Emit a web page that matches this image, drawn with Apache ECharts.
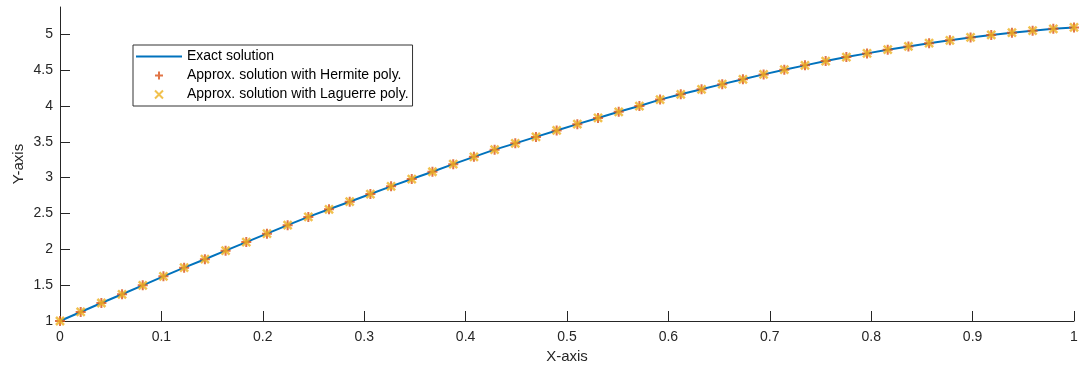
<!DOCTYPE html>
<html>
<head>
<meta charset="utf-8">
<script src="https://cdn.jsdelivr.net/npm/echarts@6/dist/echarts.min.js"></script>
<style>
html,body{margin:0;padding:0;background:#fff;}
#chart{width:1083px;height:372px;}
</style>
</head>
<body>
<div id="chart"></div>
<script>
// x grid: 50 points from 0 to 1
const xValues = [0.0000,0.0204,0.0408,0.0612,0.0816,0.1020,0.1224,0.1429,0.1633,0.1837,
  0.2041,0.2245,0.2449,0.2653,0.2857,0.3061,0.3265,0.3469,0.3673,0.3878,
  0.4082,0.4286,0.4490,0.4694,0.4898,0.5102,0.5306,0.5510,0.5714,0.5918,
  0.6122,0.6327,0.6531,0.6735,0.6939,0.7143,0.7347,0.7551,0.7755,0.7959,
  0.8163,0.8367,0.8571,0.8776,0.8980,0.9184,0.9388,0.9592,0.9796,1.0000];
const exactY = [1.000,1.126,1.251,1.373,1.498,1.623,1.744,1.862,1.981,2.101,
  2.218,2.337,2.452,2.558,2.664,2.771,2.878,2.980,3.082,3.188,
  3.290,3.390,3.478,3.568,3.658,3.746,3.832,3.918,3.998,4.088,
  4.162,4.232,4.304,4.371,4.440,4.505,4.566,4.626,4.682,4.733,
  4.785,4.830,4.875,4.915,4.955,4.990,5.022,5.050,5.075,5.095];
const hermiteY = exactY.slice();
const laguerreY = exactY.slice();
const xTicks = [0,0.1,0.2,0.3,0.4,0.5,0.6,0.7,0.8,0.9,1];
const yTicks = [1,1.5,2,2.5,3,3.5,4,4.5,5];
const seriesNames = ['Exact solution','Approx. solution with Hermite poly.','Approx. solution with Laguerre poly.'];

const pair = ys => xValues.map((x,i)=>[x, ys[i]]);
const FONT = '"Liberation Sans", Arial, sans-serif';
const AX = '#262626';
const PLUS = 'path://M5,0 L5,10 M0,5 L10,5';
const CROSS = 'path://M0,0 L10,10 M10,0 L0,10';

const chart = echarts.init(document.getElementById('chart'), null, {renderer:'canvas'});
chart.setOption({
  animation: false,
  backgroundColor: '#fff',
  grid: {left: 60, right: 9, top: 7, bottom: 51, containLabel: false},
  xAxis: {
    type: 'value', min: 0, max: 1, interval: 0.1,
    name: 'X-axis', nameLocation: 'middle', nameGap: 28,
    nameTextStyle: {fontFamily: FONT, fontSize: 15, color: AX},
    axisLine: {show: true, onZero: false, lineStyle: {color: AX, width: 1}},
    axisTick: {show: true, inside: true, length: 10, customValues: xTicks, lineStyle: {color: AX}},
    axisLabel: {show: true, margin: 9, fontFamily: FONT, fontSize: 14, color: AX, customValues: xTicks},
    splitLine: {show: false}
  },
  yAxis: {
    type: 'value', min: 1, max: 5.38,
    name: 'Y-axis', nameLocation: 'middle', nameGap: 34, nameRotate: 90, nameMoveOverlap: false,
    nameTextStyle: {fontFamily: FONT, fontSize: 15, color: AX},
    axisLine: {show: true, onZero: false, lineStyle: {color: AX, width: 1}},
    axisTick: {show: true, inside: true, length: 10, customValues: yTicks, lineStyle: {color: AX}},
    axisLabel: {show: true, margin: 7, fontFamily: FONT, fontSize: 14, color: AX, customValues: yTicks},
    splitLine: {show: false}
  },
  legend: {
    show: true, orient: 'vertical', left: 133, top: 45,
    padding: [4, 4, 4, 3], itemGap: 4, itemWidth: 46, itemHeight: 8,
    backgroundColor: '#fff', borderColor: '#333', borderWidth: 1, borderRadius: 0,
    textStyle: {fontFamily: FONT, fontSize: 14, color: '#000', lineHeight: 15},
    data: [
      {name: seriesNames[0], icon: 'path://M0,0 L46,0 L46,2 L0,2 Z'},
      {name: seriesNames[1], icon: PLUS},
      {name: seriesNames[2], icon: CROSS}
    ]
  },
  series: [
    {
      name: seriesNames[0], type: 'line', data: pair(exactY),
      symbol: 'none', smooth: false,
      lineStyle: {color: '#0072BD', width: 2}, itemStyle: {color: '#0072BD'}, z: 2
    },
    {
      name: seriesNames[1], type: 'scatter', data: pair(hermiteY),
      symbol: PLUS, symbolSize: 10,
      itemStyle: {color: '#D95319', borderColor: '#D95319', borderWidth: 2}, z: 3
    },
    {
      name: seriesNames[2], type: 'scatter', data: pair(laguerreY),
      symbol: CROSS, symbolSize: 8,
      itemStyle: {color: '#EDB120', borderColor: '#EDB120', borderWidth: 2.5}, z: 4
    }
  ]
});
</script>
</body>
</html>
